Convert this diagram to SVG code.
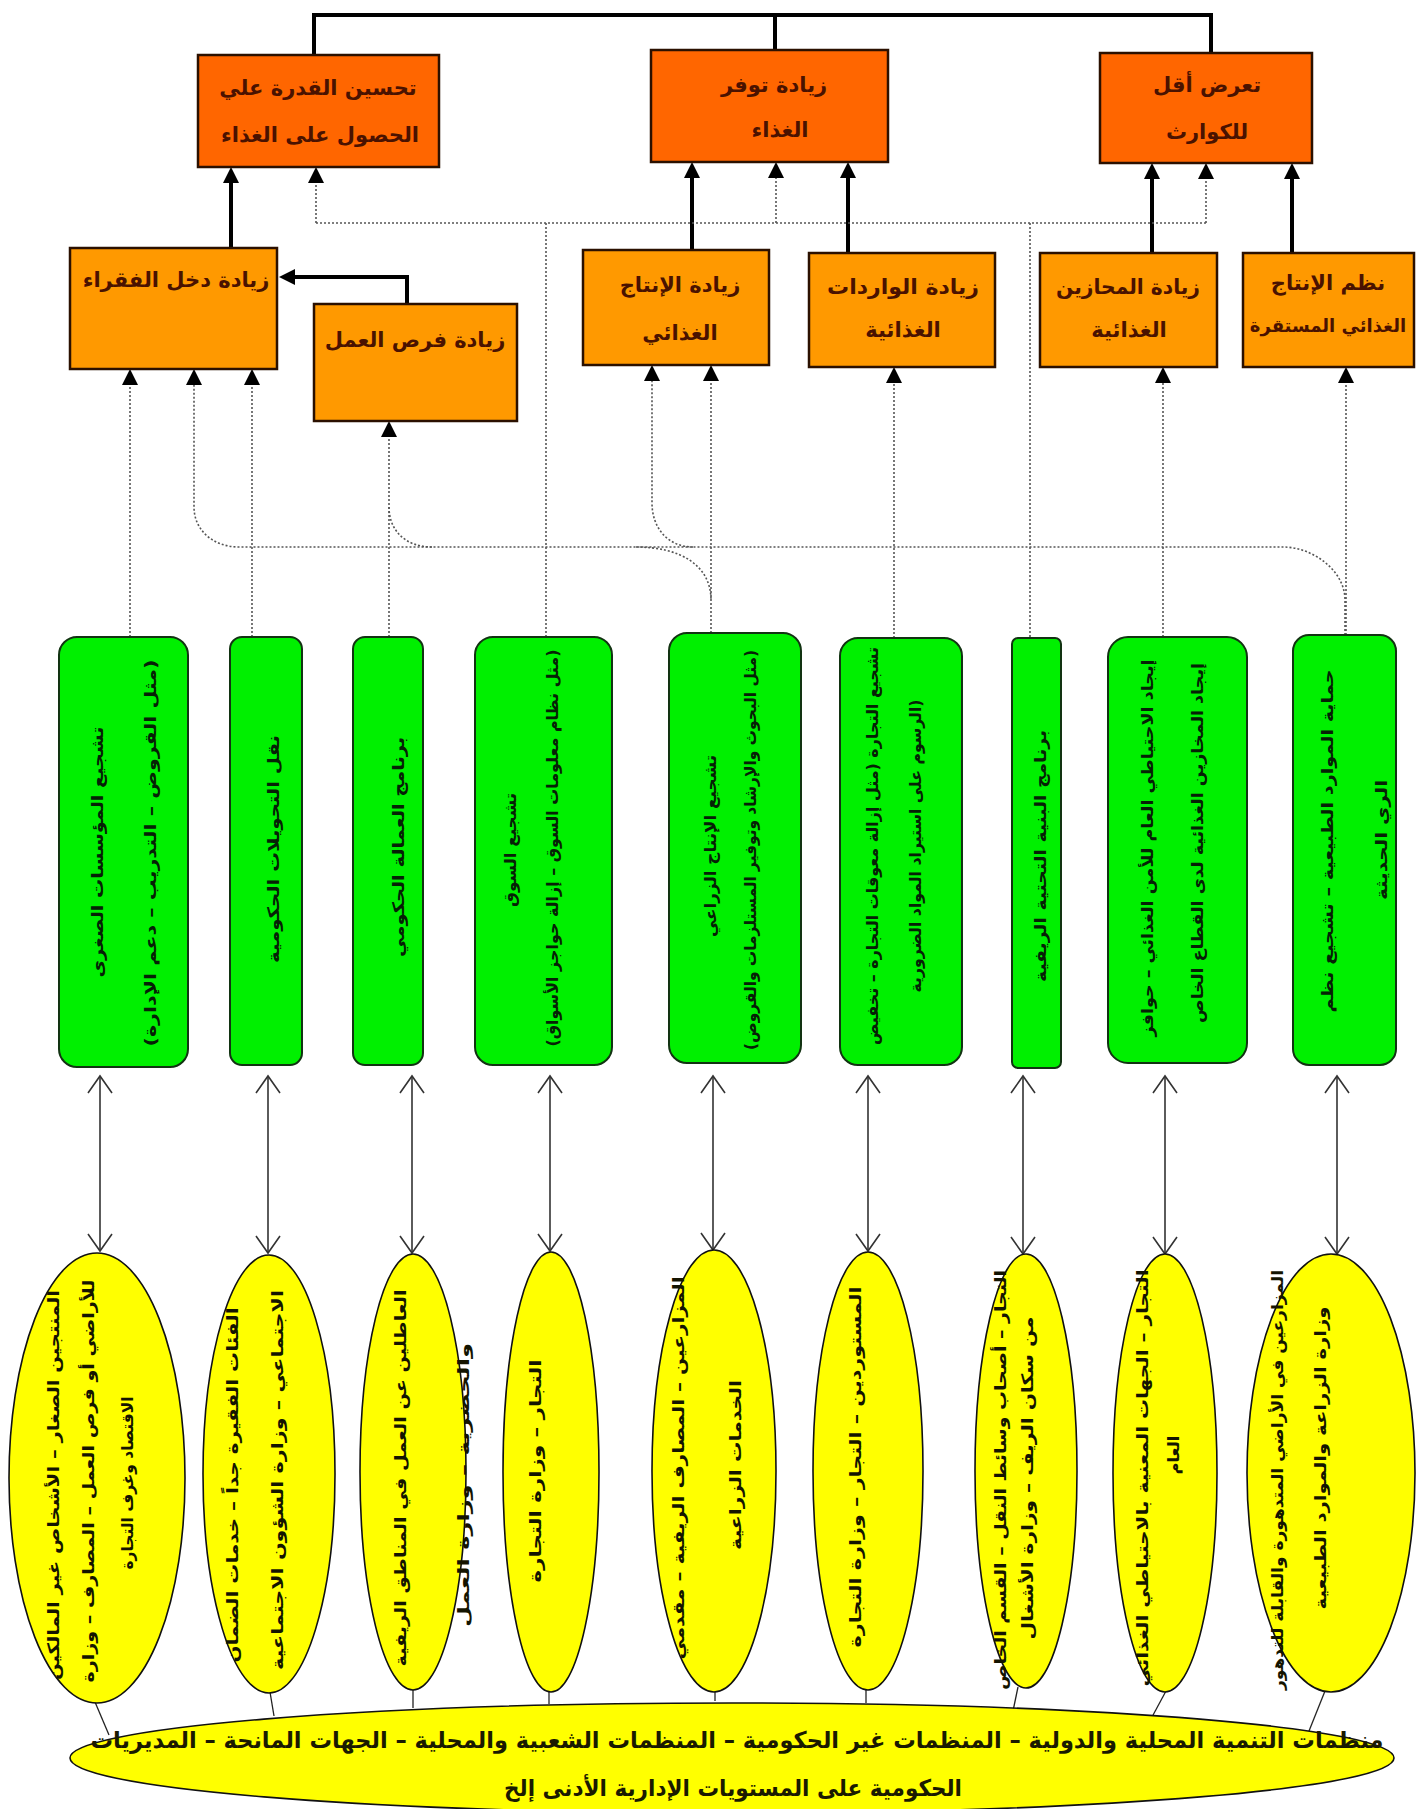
<svg xmlns="http://www.w3.org/2000/svg" width="1423" height="1809" viewBox="0 0 1423 1809">
  <style>
    .ob { fill: #FF6600; stroke: #2b1000; stroke-width: 2.5; }
    .lb { fill: #FF9900; stroke: #2b1000; stroke-width: 2.5; }
    .gb { fill: #00F000; stroke: #123312; stroke-width: 2; }
    .ye { fill: #FFFF00; stroke: #111; stroke-width: 1.6; }
    .ot { font-family: 'DejaVu Sans', sans-serif; font-weight: bold; font-size: 21px; fill: #4a1200; text-anchor: middle; dominant-baseline: central; }
    .ot.sm { font-size: 18px; }
    .gt { font-family: 'DejaVu Sans', sans-serif; font-weight: bold; font-size: 16px; fill: #062006; text-anchor: middle; dominant-baseline: central; }
    .et { font-family: 'DejaVu Sans', sans-serif; font-weight: bold; font-size: 16px; fill: #141400; text-anchor: middle; dominant-baseline: central; }
    .bt { font-family: 'DejaVu Sans', sans-serif; font-weight: bold; font-size: 23px; fill: #1a1a00; text-anchor: middle; dominant-baseline: central; }
    .solid { fill: none; stroke: #000; stroke-width: 4; }
    .dot { fill: none; stroke: #555; stroke-width: 1.6; stroke-dasharray: 2 2; }
    .dbl { fill: none; stroke: #333; stroke-width: 1.6; }
    .thin { fill: none; stroke: #222; stroke-width: 1.3; }
  </style>
  <defs>
    <marker id="tri" markerUnits="userSpaceOnUse" markerWidth="17" markerHeight="17" refX="2" refY="8" orient="auto">
      <path d="M0,0 L16,8 L0,16 z" fill="#000"/>
    </marker>
    <marker id="vee" markerUnits="userSpaceOnUse" markerWidth="20" markerHeight="26" refX="18" refY="13" orient="auto-start-reverse">
      <path d="M1,1 L18,13 L1,25" fill="none" stroke="#333" stroke-width="1.6"/>
    </marker>
  </defs>

  <rect width="1423" height="1809" fill="#fff"/>

  <!-- connectors -->
  <g id="connectors">
    <!-- top bracket joining the three outcomes -->
    <path class="solid" d="M314,56 V15 H1211 V54"/>
    <path class="solid" d="M775,15 V51"/>
    <!-- solid arrows -->
    <path class="solid" d="M231,248 V181" marker-end="url(#tri)"/>
    <path class="solid" d="M407,304 V277 H293" marker-end="url(#tri)"/>
    <path class="solid" d="M692,250 V176" marker-end="url(#tri)"/>
    <path class="solid" d="M848,253 V176" marker-end="url(#tri)"/>
    <path class="solid" d="M1152,253 V177" marker-end="url(#tri)"/>
    <path class="solid" d="M1292,253 V177" marker-end="url(#tri)"/>

    <!-- dotted links into the outcomes -->
    <path class="dot" d="M316,223 H1206"/>
    <path class="dot" d="M316,223 V181" marker-end="url(#tri)"/>
    <path class="dot" d="M776,223 V176" marker-end="url(#tri)"/>
    <path class="dot" d="M1206,223 V177" marker-end="url(#tri)"/>
    <path class="dot" d="M546,223 V637"/>
    <path class="dot" d="M1030,223 V638"/>

    <!-- dotted links from programmes to intermediate results -->
    <path class="dot" d="M130,637 V383" marker-end="url(#tri)"/>
    <path class="dot" d="M252,637 V383" marker-end="url(#tri)"/>
    <path class="dot" d="M1345,635 V600 C1345,570 1312,547 1283,547 H239 C213,547 194,530 194,507 V383" marker-end="url(#tri)"/>
    <path class="dot" d="M389,637 V435" marker-end="url(#tri)"/>
    <path class="dot" d="M432,547 C405,547 389,530 389,507"/>
    <path class="dot" d="M693,547 C668,547 652,528 652,503 V379" marker-end="url(#tri)"/>
    <path class="dot" d="M711,633 V379" marker-end="url(#tri)"/>
    <path class="dot" d="M636,547 C680,547 711,565 711,600"/>
    <path class="dot" d="M894,638 V381" marker-end="url(#tri)"/>
    <path class="dot" d="M1163,637 V381" marker-end="url(#tri)"/>
    <path class="dot" d="M1346,635 V381" marker-end="url(#tri)"/>

    <!-- two-way links between programmes and stakeholders -->
    <path class="dbl" d="M100,1076 V1251" marker-start="url(#vee)" marker-end="url(#vee)"/>
    <path class="dbl" d="M268,1076 V1253" marker-start="url(#vee)" marker-end="url(#vee)"/>
    <path class="dbl" d="M412,1076 V1253" marker-start="url(#vee)" marker-end="url(#vee)"/>
    <path class="dbl" d="M550,1076 V1251" marker-start="url(#vee)" marker-end="url(#vee)"/>
    <path class="dbl" d="M713,1076 V1250" marker-start="url(#vee)" marker-end="url(#vee)"/>
    <path class="dbl" d="M868,1076 V1251" marker-start="url(#vee)" marker-end="url(#vee)"/>
    <path class="dbl" d="M1023,1076 V1254" marker-start="url(#vee)" marker-end="url(#vee)"/>
    <path class="dbl" d="M1165,1076 V1254" marker-start="url(#vee)" marker-end="url(#vee)"/>
    <path class="dbl" d="M1337,1076 V1254" marker-start="url(#vee)" marker-end="url(#vee)"/>

    <!-- stems into the umbrella ellipse -->
    <path class="thin" d="M95,1702 L109,1735"/>
    <path class="thin" d="M270,1692 L274,1716"/>
    <path class="thin" d="M413,1689 L413,1708"/>
    <path class="thin" d="M549,1691 L549,1704"/>
    <path class="thin" d="M715,1691 L715,1701"/>
    <path class="thin" d="M866,1689 L866,1703"/>
    <path class="thin" d="M1018,1687 L1013,1711"/>
    <path class="thin" d="M1166,1691 L1152,1717"/>
    <path class="thin" d="M1325,1691 L1307,1736"/>
  </g>

  <!-- outcomes -->
  <g id="b1"><rect class="ob" x="198" y="55" width="241" height="112"/>
    <text class="ot" x="318" y="88">تحسين القدرة علي</text>
    <text class="ot" x="320" y="135">الحصول على الغذاء</text></g>
  <g id="b2"><rect class="ob" x="651" y="50" width="237" height="112"/>
    <text class="ot" x="774" y="85">زيادة توفر</text>
    <text class="ot" x="780" y="130">الغذاء</text></g>
  <g id="b3"><rect class="ob" x="1100" y="53" width="212" height="110"/>
    <text class="ot" x="1207" y="85">تعرض أقل</text>
    <text class="ot" x="1207" y="132">للكوارث</text></g>

  <!-- intermediate results -->
  <g id="c1"><rect class="lb" x="70" y="248" width="207" height="121"/>
    <text class="ot" x="176" y="280">زيادة دخل الفقراء</text></g>
  <g id="c2"><rect class="lb" x="314" y="304" width="203" height="117"/>
    <text class="ot" x="415" y="340">زيادة فرص العمل</text></g>
  <g id="c3"><rect class="lb" x="583" y="250" width="186" height="115"/>
    <text class="ot" x="680" y="285">زيادة الإنتاج</text>
    <text class="ot" x="680" y="333">الغذائي</text></g>
  <g id="c4"><rect class="lb" x="809" y="253" width="186" height="114"/>
    <text class="ot" x="903" y="287" textLength="152" lengthAdjust="spacingAndGlyphs">زيادة الواردات</text>
    <text class="ot" x="903" y="330">الغذائية</text></g>
  <g id="c5"><rect class="lb" x="1040" y="253" width="177" height="114"/>
    <text class="ot" x="1128" y="287" textLength="144" lengthAdjust="spacingAndGlyphs">زيادة المحازين</text>
    <text class="ot" x="1129" y="330">الغذائية</text></g>
  <g id="c6"><rect class="lb" x="1243" y="253" width="171" height="114"/>
    <text class="ot" x="1328" y="283">نظم الإنتاج</text>
    <text class="ot sm" x="1328" y="325">الغذائي المستقرة</text></g>

  <!-- programmes (vertical text) -->
  <g id="g1"><rect class="gb" x="59" y="637" width="129" height="430" rx="18"/>
    <text class="gt" transform="translate(97,852) rotate(-90)" textLength="251" lengthAdjust="spacingAndGlyphs">تشجيع المؤسسات الصغرى</text>
    <text class="gt" transform="translate(150,853) rotate(-90)" textLength="387" lengthAdjust="spacingAndGlyphs">(مثل القروض – التدريب – دعم الإدارة)</text></g>
  <g id="g2"><rect class="gb" x="230" y="637" width="72" height="428" rx="12"/>
    <text class="gt" transform="translate(273,849) rotate(-90)" textLength="228" lengthAdjust="spacingAndGlyphs">نقل التحويلات الحكومية</text></g>
  <g id="g3"><rect class="gb" x="353" y="637" width="70" height="428" rx="12"/>
    <text class="gt" transform="translate(398,847) rotate(-90)" textLength="220" lengthAdjust="spacingAndGlyphs">برنامج العمالة الحكومي</text></g>
  <g id="g4"><rect class="gb" x="475" y="637" width="137" height="428" rx="18"/>
    <text class="gt" transform="translate(510,850) rotate(-90)" textLength="114" lengthAdjust="spacingAndGlyphs">تشجيع السوق</text>
    <text class="gt" transform="translate(552,848) rotate(-90)" textLength="397" lengthAdjust="spacingAndGlyphs">(مثل نظام معلومات السوق – إزالة حواجز الأسواق)</text></g>
  <g id="g5"><rect class="gb" x="669" y="633" width="132" height="430" rx="18"/>
    <text class="gt" transform="translate(710,846) rotate(-90)" textLength="182" lengthAdjust="spacingAndGlyphs">تشجيع الإنتاج الزراعي</text>
    <text class="gt" transform="translate(750,850) rotate(-90)" textLength="400" lengthAdjust="spacingAndGlyphs">(مثل البحوث والإرشاد وتوفير المستلزمات والقروض)</text></g>
  <g id="g6"><rect class="gb" x="840" y="638" width="122" height="427" rx="18"/>
    <text class="gt" transform="translate(872,846) rotate(-90)" textLength="398" lengthAdjust="spacingAndGlyphs">تشجيع التجارة (مثل إزالة معوقات التجارة – تخفيض</text>
    <text class="gt" transform="translate(915,846) rotate(-90)" textLength="293" lengthAdjust="spacingAndGlyphs">الرسوم على استيراد المواد الضرورية)</text></g>
  <g id="g7"><rect class="gb" x="1012" y="638" width="49" height="430" rx="6"/>
    <text class="gt" transform="translate(1040,856) rotate(-90)" textLength="252" lengthAdjust="spacingAndGlyphs">برنامج البنية التحتية الريفية</text></g>
  <g id="g8"><rect class="gb" x="1108" y="637" width="139" height="426" rx="20"/>
    <text class="gt" transform="translate(1147,848) rotate(-90)" textLength="377" lengthAdjust="spacingAndGlyphs">إيجاد الاحتياطي العام للأمن الغذائي – حوافز</text>
    <text class="gt" transform="translate(1197,843) rotate(-90)" textLength="360" lengthAdjust="spacingAndGlyphs">إيجاد المخازين الغذائية لدى القطاع الخاص</text></g>
  <g id="g9"><rect class="gb" x="1293" y="635" width="103" height="430" rx="16"/>
    <text class="gt" transform="translate(1327,841) rotate(-90)" textLength="343" lengthAdjust="spacingAndGlyphs">حماية الموارد الطبيعية – تشجيع نظم</text>
    <text class="gt" transform="translate(1381,840) rotate(-90)" textLength="120" lengthAdjust="spacingAndGlyphs">الري الحديثة</text></g>

  <!-- umbrella organisations -->
  <g id="umbrella"><ellipse class="ye" cx="732" cy="1758" rx="662" ry="55"/>
    <text class="bt" x="737" y="1740" textLength="1293" lengthAdjust="spacingAndGlyphs">منظمات التنمية المحلية والدولية – المنظمات غير الحكومية – المنظمات الشعبية والمحلية – الجهات المانحة – المديريات</text>
    <text class="bt" x="733" y="1788" textLength="458" lengthAdjust="spacingAndGlyphs">الحكومية على المستويات الإدارية الأدنى إلخ</text></g>

  <!-- stakeholders (vertical text) -->
  <g id="e1"><ellipse class="ye" cx="97" cy="1478" rx="88" ry="225"/>
    <text class="et" transform="translate(53,1485) rotate(-90)" textLength="390" lengthAdjust="spacingAndGlyphs">المنتجين الصغار – الأشخاص غير المالكين</text>
    <text class="et" transform="translate(88,1481) rotate(-90)" textLength="403" lengthAdjust="spacingAndGlyphs">للأراضي أو فرص العمل – المصارف – وزارة</text>
    <text class="et" transform="translate(127,1483) rotate(-90)" textLength="173" lengthAdjust="spacingAndGlyphs">الاقتصاد وغرف التجارة</text></g>
  <g id="e2"><ellipse class="ye" cx="269" cy="1474" rx="66" ry="219"/>
    <text class="et" transform="translate(232,1485) rotate(-90)" textLength="355" lengthAdjust="spacingAndGlyphs">الفئات الفقيرة جداً – خدمات الضمان</text>
    <text class="et" transform="translate(277,1480) rotate(-90)" textLength="380" lengthAdjust="spacingAndGlyphs">الاجتماعي – وزارة الشؤون الاجتماعية</text></g>
  <g id="e3"><ellipse class="ye" cx="413" cy="1472" rx="53" ry="218"/>
    <text class="et" transform="translate(400,1478) rotate(-90)" textLength="377" lengthAdjust="spacingAndGlyphs">العاطلين عن العمل في المناطق الريفية</text>
    <text class="et" transform="translate(463,1485) rotate(-90)" textLength="284" lengthAdjust="spacingAndGlyphs">والحضرية – وزارة العمل</text></g>
  <g id="e4"><ellipse class="ye" cx="551" cy="1472" rx="48" ry="220"/>
    <text class="et" transform="translate(535,1471) rotate(-90)" textLength="223" lengthAdjust="spacingAndGlyphs">التجار – وزارة التجارة</text></g>
  <g id="e5"><ellipse class="ye" cx="714" cy="1471" rx="62" ry="221"/>
    <text class="et" transform="translate(678,1468) rotate(-90)" textLength="383" lengthAdjust="spacingAndGlyphs">المزارعين – المصارف الريفية – مقدمي</text>
    <text class="et" transform="translate(735,1465) rotate(-90)" textLength="170" lengthAdjust="spacingAndGlyphs">الخدمات الزراعية</text></g>
  <g id="e6"><ellipse class="ye" cx="868" cy="1471" rx="55" ry="219"/>
    <text class="et" transform="translate(855,1467) rotate(-90)" textLength="361" lengthAdjust="spacingAndGlyphs">المستوردين – التجار – وزارة التجارة</text></g>
  <g id="e7"><ellipse class="ye" cx="1026" cy="1471" rx="51" ry="217"/>
    <text class="et" transform="translate(1000,1480) rotate(-90)" textLength="420" lengthAdjust="spacingAndGlyphs">التجار – أصحاب وسائط النقل – القسم الخاص</text>
    <text class="et" transform="translate(1027,1478) rotate(-90)" textLength="323" lengthAdjust="spacingAndGlyphs">من سكان الريف – وزارة الأشغال</text></g>
  <g id="e8"><ellipse class="ye" cx="1165" cy="1473" rx="52" ry="219"/>
    <text class="et" transform="translate(1142,1478) rotate(-90)" textLength="417" lengthAdjust="spacingAndGlyphs">التجار – الجهات المعنية بالاحتياطي الغذائي</text>
    <text class="et" transform="translate(1173,1455) rotate(-90)">العام</text></g>
  <g id="e9"><ellipse class="ye" cx="1331" cy="1473" rx="84" ry="219"/>
    <text class="et" transform="translate(1277,1480) rotate(-90)" textLength="420" lengthAdjust="spacingAndGlyphs">المزارعين في الأراضي المتدهورة والقابلة للتدهور</text>
    <text class="et" transform="translate(1320,1458) rotate(-90)" textLength="303" lengthAdjust="spacingAndGlyphs">وزارة الزراعة والموارد الطبيعية</text></g>
</svg>
